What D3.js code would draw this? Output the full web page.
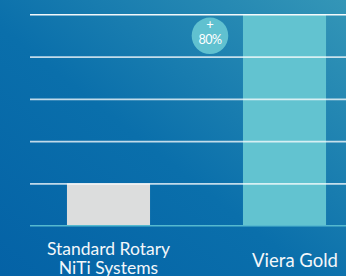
<!DOCTYPE html>
<html>
<head>
<meta charset="utf-8">
<script src="https://cdn.jsdelivr.net/npm/d3@7"></script>
<style>
	html, body { margin: 0; padding: 0; overflow: hidden; }
	svg { display: block; }
</style>
</head>
<body>
<script>
(function () {
	"use strict";

	// data
	let categories = ['Standard Rotary\nNiTi Systems', 'Viera Gold'];
	let values = [20, 100];
	let barColors = ['#dcdddd', '#62c3d0'];
	let gridTicks = [20, 40, 60, 80, 100];
	let badgeLabel = '80%';

	let w = 346;
	let h = 276;

	let svg = d3.select('body').append('svg')
		.attr('width', w)
		.attr('height', h);

	// background gradient
	let defs = svg.append('defs');
	let grad = defs.append('linearGradient')
		.attr('id', 'bg')
		.attr('x1', '0%').attr('y1', '100%')
		.attr('x2', '100%').attr('y2', '0%');
	grad.append('stop').attr('offset', '0%').attr('stop-color', '#0462a6');
	grad.append('stop').attr('offset', '45%').attr('stop-color', '#0a6fab');
	grad.append('stop').attr('offset', '100%').attr('stop-color', '#3496b7');

	svg.append('rect')
		.attr('width', w)
		.attr('height', h)
		.attr('fill', 'url(#bg)');

	let x = d3.scaleBand()
		.domain(categories)
		.range([30, 363])
		.paddingInner(0.528)
		.paddingOuter(0.21);

	let y = d3.scaleLinear()
		.domain([0, 100])
		.range([225.7, 14.3]);

	// bars
	svg.selectAll('rect.bar')
		.data(values)
		.enter()
		.append('rect')
		.attr('class', 'bar')
		.attr('x', (d, i) => x(categories[i]))
		.attr('width', x.bandwidth())
		.attr('y', (d) => y(d))
		.attr('height', (d) => y(0) - y(d))
		.attr('fill', (d, i) => barColors[i]);

	// grid lines over the bars
	let yAxis = d3.axisLeft(y)
		.tickValues(gridTicks)
		.tickSize(-(w - 30))
		.tickFormat('');

	let gridG = svg.append('g')
		.attr('transform', 'translate(30,0)')
		.call(yAxis);
	gridG.select('.domain').remove();
	gridG.selectAll('.tick line')
		.attr('stroke', '#ffffff')
		.attr('stroke-width', 1.6)
		.attr('stroke-opacity', (d) => d === 100 ? 0.95 : 0.75);

	// baseline
	svg.append('line')
		.attr('x1', 30)
		.attr('x2', w)
		.attr('y1', y(0))
		.attr('y2', y(0))
		.attr('stroke', '#55b9cf')
		.attr('stroke-width', 1.6);

	// badge
	let badge = svg.append('g')
		.attr('transform', 'translate(' + (x(categories[1]) - 33) + ',' + (y(100) + 21.5) + ')');
	badge.append('circle')
		.attr('r', 18.3)
		.attr('fill', '#60c1d0');
	badge.append('text')
		.attr('text-anchor', 'middle')
		.attr('y', -7)
		.attr('fill', '#ffffff')
		.style('font-family', 'Lato, sans-serif')
		.style('font-size', '13px')
		.text('+');
	badge.append('text')
		.attr('text-anchor', 'middle')
		.attr('y', 8.5)
		.attr('fill', '#ffffff')
		.style('font-family', 'Lato, sans-serif')
		.style('font-size', '12.5px')
		.style('letter-spacing', '-0.6px')
		.text(badgeLabel);

	// category labels
	let labels = svg.selectAll('text.cat')
		.data(categories)
		.enter()
		.append('text')
		.attr('class', 'cat')
		.attr('text-anchor', 'middle')
		.attr('fill', '#f3f7fa')
		.style('font-family', 'Lato, sans-serif')
		.style('font-size', (d, i) => i === 1 ? '18.5px' : '17.5px')
		.attr('x', (d, i) => x(d) + x.bandwidth() / 2 + (i === 1 ? 10.5 : 0))
		.attr('y', (d) => d.indexOf('\n') >= 0 ? 255 : 267);

	labels.each(function (d) {
		let el = d3.select(this);
		d.split('\n').forEach((line, k) => {
			el.append('tspan')
				.attr('x', el.attr('x'))
				.attr('dy', k === 0 ? 0 : 19)
				.text(line);
		});
	});
})();
</script>
</body>
</html>
